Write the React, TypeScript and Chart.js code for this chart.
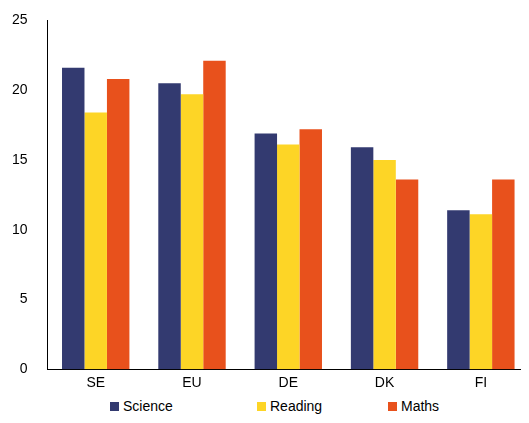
import React, { useEffect, useRef } from "react";
import Chart from "chart.js/auto";

const countries = ["SE", "EU", "DE", "DK", "FI"];
const science = [21.6, 20.5, 16.9, 15.9, 11.4];
const reading = [18.4, 19.7, 16.1, 15.0, 11.1];
const maths = [20.8, 22.1, 17.2, 13.6, 13.6];
const seriesNames = ["Science", "Reading", "Maths"];
const seriesColors = ["#333a70", "#fdd526", "#e8511c"];

export default function App() {
  const canvasRef = useRef<HTMLCanvasElement | null>(null);

  useEffect(() => {
    if (!canvasRef.current) return;
    const font = { family: "Liberation Sans, Arial, sans-serif", size: 14 };
    const chart = new Chart(canvasRef.current, {
      type: "bar",
      data: {
        labels: countries,
        datasets: [science, reading, maths].map((d, i) => ({
          label: seriesNames[i],
          data: d,
          backgroundColor: seriesColors[i],
        })),
      },
      options: {
        animation: false,
        responsive: true,
        maintainAspectRatio: false,
        layout: { padding: { top: 8, right: 0, bottom: 0 } },
        datasets: { bar: { categoryPercentage: 0.7, barPercentage: 1 } },
        plugins: {
          legend: { display: false },
          tooltip: { enabled: false },
        },
        scales: {
          x: {
            grid: { display: false, drawTicks: false },
            border: { color: "#000" },
            ticks: { color: "#000", font, padding: 6 },
          },
          y: {
            min: 0,
            max: 25,
            grid: { display: false },
            border: { color: "#000" },
            ticks: { stepSize: 5, color: "#000", font, padding: 12 },
          },
        },
      },
    });
    return () => chart.destroy();
  }, []);

  const legendX = [110, 257, 388];
  return (
    <div style={{ width: 529, height: 415, marginTop: -8, marginLeft: -8, background: "#fff", position: "relative", fontFamily: "Liberation Sans, Arial, sans-serif", fontSize: 14, lineHeight: "14px" }}>
      <div style={{ width: 529, height: 398 }}>
        <canvas ref={canvasRef} />
      </div>
      {seriesNames.map((n, i) => (
        <div key={n} style={{ position: "absolute", left: legendX[i], top: 399, display: "flex", alignItems: "center" }}>
          <span style={{ display: "inline-block", width: 9, height: 9, background: seriesColors[i], marginRight: 4 }} />
          <span>{n}</span>
        </div>
      ))}
    </div>
  );
}
